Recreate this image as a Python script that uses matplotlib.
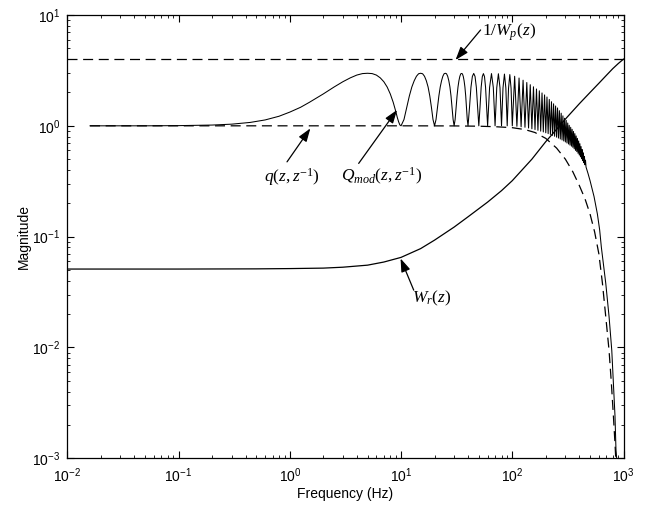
import numpy as np
import matplotlib
matplotlib.use("Agg")
import matplotlib.pyplot as plt
from matplotlib.ticker import LogLocator, NullFormatter

# ---------------- data ----------------
# 1/W_p(z): constant level
wp_inv_level = 4.0
wp_inv_freq = [0.01, 1000.0]

# q(z, z^-1)  (dashed)
q_freq = [0.016, 0.1, 1, 10, 30, 50, 70, 100, 130, 160, 200, 250, 300, 350,
          400, 450, 500, 550, 600, 646, 692, 741, 778, 811, 838, 851, 862]
q_mag = [1.0, 1.0, 1.0, 1.0, 0.998, 0.992, 0.982, 0.962, 0.925, 0.87, 0.77,
         0.63, 0.5, 0.385, 0.29, 0.22, 0.16, 0.11, 0.07, 0.038, 0.019, 0.0094,
         0.0047, 0.0024, 0.00136, 0.001, 0.0008]

# Q_mod(z, z^-1): low-frequency hump (0.016 - 10 Hz)
qmod_hump_freq = [0.016, 0.05, 0.1, 0.2, 0.3, 0.44, 0.6, 0.8, 1.0, 1.25, 1.5,
                  1.75, 2.0, 2.5, 3.0, 3.5, 4.0, 4.5, 5.0, 5.5, 6.0, 6.5, 7.0,
                  7.5, 8.0, 8.5, 9.0, 9.25, 9.5, 9.75]
qmod_hump_mag = [1.0, 1.0, 1.004, 1.016, 1.035, 1.073, 1.13, 1.22, 1.33, 1.47,
                 1.63, 1.79, 1.94, 2.24, 2.5, 2.71, 2.87, 2.96, 2.98, 2.96, 2.87,
                 2.71, 2.5, 2.24, 1.94, 1.63, 1.33, 1.19, 1.09, 1.02]

# Q_mod: comb lobes 10 - 100 Hz (shape points)
qmod_lobe_freq = [10, 10.625, 11.25, 11.875, 12.5, 13.125, 13.75, 14.375,
                  15, 15.625, 16.25, 16.875, 17.5, 18.125, 18.75, 19.375,
                  20, 20.625, 21.25, 21.875, 22.5, 23.125, 23.75, 24.375,
                  25, 25.625, 26.25, 26.875, 27.5, 28.125, 28.75, 29.375,
                  30, 30.625, 31.25, 31.875, 32.5, 33.125, 33.75, 34.375,
                  35, 35.625, 36.25, 36.875, 37.5, 38.125, 38.75, 39.375,
                  40, 41.25, 42.5, 43.75, 45, 46.25, 47.5, 48.75,
                  50, 51.25, 52.5, 53.75, 55, 56.25, 57.5, 58.75,
                  60, 62.5, 65, 67.5, 70, 72.5, 75, 77.5,
                  80, 82.5, 85, 87.5, 90, 92.5, 95, 97.5]
qmod_lobe_mag = [1.0, 1.14, 1.47, 1.86, 2.24, 2.55, 2.8, 2.95,
                 2.98, 2.95, 2.8, 2.55, 2.24, 1.86, 1.47, 1.14,
                 1.0, 1.14, 1.47, 1.86, 2.24, 2.55, 2.8, 2.95,
                 2.98, 2.95, 2.8, 2.55, 2.24, 1.86, 1.47, 1.14,
                 1.0, 1.14, 1.47, 1.86, 2.24, 2.55, 2.79, 2.94,
                 2.97, 2.94, 2.79, 2.55, 2.24, 1.86, 1.47, 1.14,
                 1.0, 1.47, 2.23, 2.79, 2.97, 2.79, 2.23, 1.47,
                 1.0, 1.47, 2.23, 2.78, 2.96, 2.78, 2.23, 1.47,
                 1.0, 2.22, 2.96, 2.22, 1.0, 2.21, 2.95, 2.21,
                 1.0, 2.2, 2.93, 2.2, 1.0, 2.18, 2.9, 2.18]

# Q_mod: dense comb 100 - 460 Hz (troughs and peaks)
qmod_comb_trough_freq = [100, 110, 120, 130, 140, 150, 160, 170, 180, 190, 200,
                         210, 220, 230, 240, 250, 260, 270, 280, 290, 300, 310,
                         320, 330, 340, 350, 360, 370, 380, 390, 400, 410, 420,
                         430, 440, 450, 460]
qmod_comb_trough_mag = [1.0, 0.99, 0.98, 0.97, 0.955, 0.94, 0.925, 0.91, 0.895,
                        0.88, 0.865, 0.85, 0.835, 0.82, 0.805, 0.79, 0.775, 0.76,
                        0.745, 0.73, 0.715, 0.7, 0.685, 0.67, 0.655, 0.64, 0.62,
                        0.6, 0.585, 0.565, 0.545, 0.525, 0.505, 0.485, 0.465,
                        0.445, 0.425]
qmod_comb_peak_freq = [105, 115, 125, 135, 145, 155, 165, 175, 185, 195, 205,
                       215, 225, 235, 245, 255, 265, 275, 285, 295, 305, 315,
                       325, 335, 345, 355, 365, 375, 385, 395, 405, 415, 425,
                       435, 445, 455]
qmod_comb_peak_mag = [2.8, 2.7, 2.58, 2.46, 2.35, 2.25, 2.15, 2.07, 1.98, 1.9,
                      1.82, 1.73, 1.65, 1.58, 1.51, 1.45, 1.37, 1.3, 1.23, 1.17,
                      1.12, 1.06, 1.01, 0.97, 0.93, 0.89, 0.85, 0.81, 0.77, 0.73,
                      0.69, 0.65, 0.61, 0.57, 0.53, 0.49]

# Q_mod: high-frequency tail
qmod_tail_freq = [480, 500, 543, 582, 610, 632, 660, 692, 741, 784, 811, 838,
                  855, 867, 880]
qmod_tail_mag = [0.37, 0.32, 0.23, 0.16, 0.115, 0.08, 0.056, 0.038, 0.019,
                 0.0094, 0.0047, 0.0024, 0.0012, 0.001, 0.0007]

# W_r(z)
wr_freq = [0.01, 0.1, 0.5, 1, 2, 3, 5, 7, 10, 15, 20, 30, 40, 60, 80, 100, 150,
           200, 250, 300, 400, 500, 600, 700, 800, 900, 1000]
wr_mag = [0.051, 0.051, 0.0512, 0.0515, 0.052, 0.053, 0.0553, 0.059, 0.065,
          0.078, 0.093, 0.122, 0.151, 0.205, 0.26, 0.32, 0.5, 0.72, 0.93, 1.15,
          1.58, 2.0, 2.42, 2.85, 3.28, 3.66, 4.0]

# ---------------- build Q_mod series ----------------
comb_f, comb_m = [], []
for i in range(len(qmod_comb_peak_freq)):
    comb_f += [qmod_comb_trough_freq[i], qmod_comb_peak_freq[i]]
    comb_m += [qmod_comb_trough_mag[i], qmod_comb_peak_mag[i]]
comb_f.append(qmod_comb_trough_freq[-1])
comb_m.append(qmod_comb_trough_mag[-1])

qmod_freq = qmod_hump_freq + qmod_lobe_freq + comb_f + qmod_tail_freq
qmod_mag = qmod_hump_mag + qmod_lobe_mag + comb_m + qmod_tail_mag

# ---------------- figure ----------------
plt.rcParams['font.family'] = ['Liberation Sans', 'DejaVu Sans']
plt.rcParams['mathtext.fontset'] = 'custom'
plt.rcParams['mathtext.rm'] = 'Liberation Serif'
plt.rcParams['mathtext.it'] = 'Liberation Serif:italic'
plt.rcParams['mathtext.bf'] = 'Liberation Serif:bold'

fig = plt.figure(figsize=(6.62, 5.05), dpi=100)
ax = fig.add_axes([0.1017, 0.0925, 0.8402, 0.8778])

lw = 0.9
dash = (0, (8, 4.5))
ax.plot(wp_inv_freq, [wp_inv_level, wp_inv_level], color='k', lw=lw, linestyle=dash)
ax.plot(q_freq, q_mag, color='k', lw=lw, linestyle=dash)
ax.plot(qmod_freq, qmod_mag, color='k', lw=0.75)
ax.plot(wr_freq, wr_mag, color='k', lw=lw)

ax.set_xscale('log')
ax.set_yscale('log')
ax.set_xlim(0.01, 1000)
ax.set_ylim(1e-3, 10)

for axis in (ax.xaxis, ax.yaxis):
    axis.set_major_locator(LogLocator(base=10, numticks=20))
    axis.set_minor_locator(LogLocator(base=10, subs=np.arange(2, 10), numticks=20))
    axis.set_minor_formatter(NullFormatter())

ax.tick_params(which='both', direction='in', top=True, right=True, labelsize=10)
ax.tick_params(which='major', length=5, width=0.8)
ax.tick_params(which='minor', length=2.5, width=0.6)
ax.tick_params(axis='x', which='major', pad=6)
ax.tick_params(axis='y', which='major', pad=5)
for s in ax.spines.values():
    s.set_linewidth(0.9)

ax.set_xlabel('Frequency (Hz)', fontsize=10, labelpad=1)
ax.set_ylabel('Magnitude', fontsize=10, labelpad=1)

arrow = dict(arrowstyle='-|>,head_length=0.8,head_width=0.28', color='k',
             lw=0.9, shrinkA=0, shrinkB=0)
tfs = 12.5

# 1/W_p(z)
ax.annotate('', xy=(30.9, 3.93), xytext=(51.9, 7.33), arrowprops=arrow)
ax.text(53.7, 7.0, r'$1/W_p(z)$', fontsize=tfs, ha='left', va='center')

# q(z,z^-1)
ax.annotate('', xy=(1.53, 0.948), xytext=(0.944, 0.473), arrowprops=arrow)
ax.text(1.04, 0.347, r'$q(z,z^{-1})$', fontsize=tfs, ha='center', va='center')

# Q_mod(z,z^-1)
ax.annotate('', xy=(9.2, 1.39), xytext=(4.16, 0.458), arrowprops=arrow)
ax.text(6.73, 0.347, r'$Q_{mod}(z,z^{-1})$', fontsize=tfs, ha='center', va='center')

# W_r(z)
ax.annotate('', xy=(9.9, 0.0635), xytext=(13.0, 0.0329), arrowprops=arrow)
ax.text(18.8, 0.0279, r'$W_r(z)$', fontsize=tfs, ha='center', va='center')

fig.savefig('out.png', dpi=100)
